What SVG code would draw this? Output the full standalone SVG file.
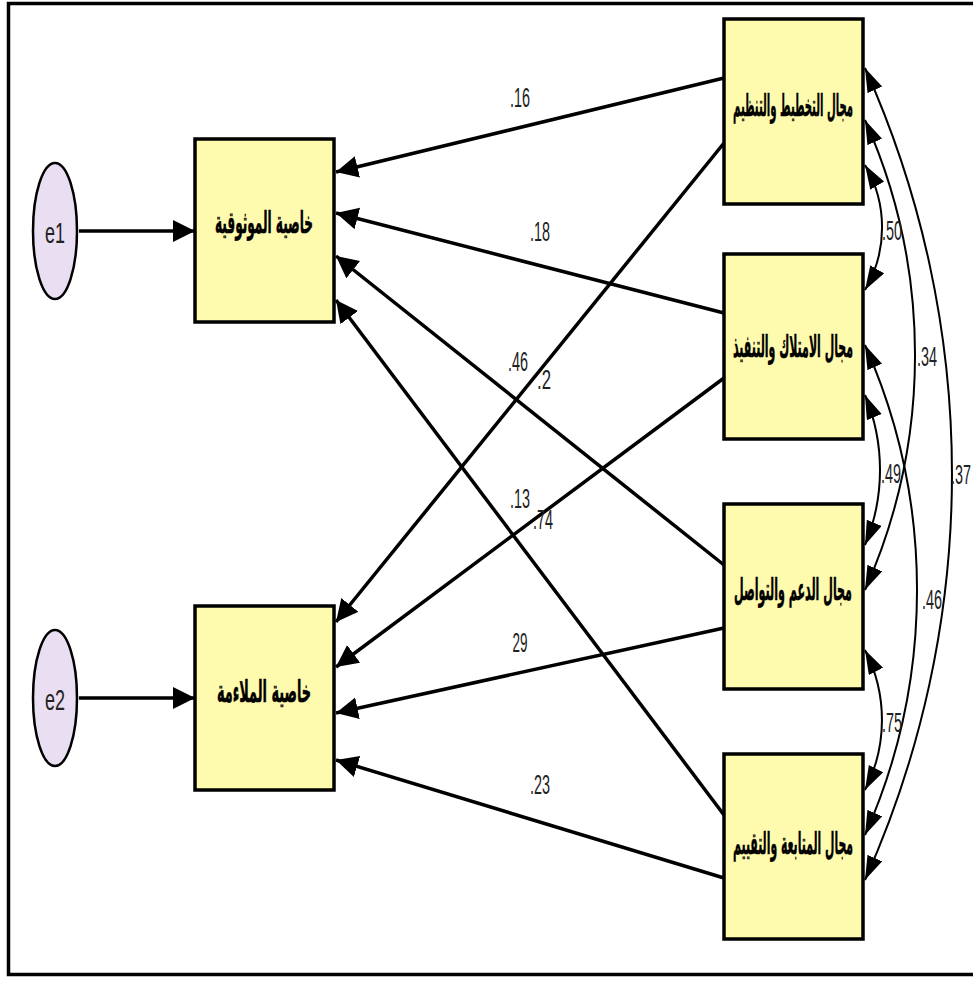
<svg xmlns="http://www.w3.org/2000/svg" width="973" height="983" viewBox="0 0 973 983">
<style>
.box{fill:#FFFBAE;stroke:#000;stroke-width:3.5}
.err{fill:#EADFF2;stroke:#000;stroke-width:2.5}
.ar{font-family:"DejaVu Sans",sans-serif;font-weight:bold;font-size:22px;fill:#000;stroke:#000;stroke-width:0.4;text-anchor:middle}
.en{font-family:"Liberation Sans",Arial,sans-serif;font-size:30px;fill:#222;text-anchor:middle}
.num{font-family:"Liberation Sans",Arial,sans-serif;font-size:28px;fill:#222;text-anchor:middle}
.path{fill:none;stroke:#000;stroke-width:3.5}
.cov{fill:none;stroke:#000;stroke-width:2}
</style>
<defs>
<marker id="ah" markerUnits="userSpaceOnUse" markerWidth="24" markerHeight="24" refX="22" refY="11" orient="auto">
<path d="M0,0 L22,11 L0,22 z" fill="#000"/>
</marker>
<marker id="ahc" markerUnits="userSpaceOnUse" markerWidth="26" markerHeight="18" refX="24" refY="8" orient="auto-start-reverse">
<path d="M0,0 L24,8 L0,16 z" fill="#000"/>
</marker>
</defs>
<rect x="8.5" y="3.5" width="975" height="971" fill="#fff" stroke="#000" stroke-width="3.5"/>

<g id="connectors">
<path class="path" marker-end="url(#ah)" d="M79,231 L195,231"/>
<path class="path" marker-end="url(#ah)" d="M79,698 L195,698"/>
<path class="path" marker-end="url(#ah)" d="M724,78 L336,172"/>
<path class="path" marker-end="url(#ah)" d="M724,143 L336,622"/>
<path class="path" marker-end="url(#ah)" d="M724,313 L336,213"/>
<path class="path" marker-end="url(#ah)" d="M724,378 L336,667"/>
<path class="path" marker-end="url(#ah)" d="M724,565 L336,256"/>
<path class="path" marker-end="url(#ah)" d="M724,628 L336,713"/>
<path class="path" marker-end="url(#ah)" d="M724,815 L336,300"/>
<path class="path" marker-end="url(#ah)" d="M724,878 L336,760"/>
<path class="cov" marker-start="url(#ahc)" marker-end="url(#ahc)" d="M865,165 A123,123 0 0 1 865,290"/>
<path class="cov" marker-start="url(#ahc)" marker-end="url(#ahc)" d="M865,395 A195,195 0 0 1 865,545"/>
<path class="cov" marker-start="url(#ahc)" marker-end="url(#ahc)" d="M865,650 A153,153 0 0 1 865,790"/>
<path class="cov" marker-start="url(#ahc)" marker-end="url(#ahc)" d="M865,120 A577,577 0 0 1 865,590"/>
<path class="cov" marker-start="url(#ahc)" marker-end="url(#ahc)" d="M865,345 A603,603 0 0 1 865,835"/>
<path class="cov" marker-start="url(#ahc)" marker-end="url(#ahc)" d="M865,68 A991,991 0 0 1 865,880"/>
<text class="num" x="520" y="107" textLength="20" lengthAdjust="spacingAndGlyphs">.16</text>
<text class="num" x="540" y="241" textLength="20" lengthAdjust="spacingAndGlyphs">.18</text>
<text class="num" x="518" y="371" textLength="20" lengthAdjust="spacingAndGlyphs">.46</text>
<text class="num" x="544" y="389" textLength="14" lengthAdjust="spacingAndGlyphs">.2</text>
<text class="num" x="520" y="508" textLength="20" lengthAdjust="spacingAndGlyphs">.13</text>
<text class="num" x="543" y="529" textLength="20" lengthAdjust="spacingAndGlyphs">.74</text>
<text class="num" x="520" y="652" textLength="15" lengthAdjust="spacingAndGlyphs">29</text>
<text class="num" x="540" y="794" textLength="20" lengthAdjust="spacingAndGlyphs">.23</text>
<text class="num" x="892" y="240" textLength="20" lengthAdjust="spacingAndGlyphs">.50</text>
<text class="num" x="927" y="366" textLength="20" lengthAdjust="spacingAndGlyphs">.34</text>
<text class="num" x="891" y="483" textLength="20" lengthAdjust="spacingAndGlyphs">.49</text>
<text class="num" x="961" y="484" textLength="20" lengthAdjust="spacingAndGlyphs">.37</text>
<text class="num" x="932" y="609" textLength="20" lengthAdjust="spacingAndGlyphs">.46</text>
<text class="num" x="892" y="732" textLength="20" lengthAdjust="spacingAndGlyphs">.75</text>
</g>

<g id="e1"><ellipse class="err" cx="55" cy="231" rx="22" ry="68"/><text class="en" x="55" y="243" textLength="20" lengthAdjust="spacingAndGlyphs">e1</text></g>
<g id="e2"><ellipse class="err" cx="55" cy="698" rx="22" ry="68"/><text class="en" x="55" y="710" textLength="20" lengthAdjust="spacingAndGlyphs">e2</text></g>

<g id="reliability"><rect class="box" x="195" y="139" width="139" height="183"/><text class="ar" transform="translate(264,233) scale(1,1.4)" x="0" y="0" direction="rtl" textLength="98" lengthAdjust="spacingAndGlyphs">خاصية الموثوقية</text></g>
<g id="suitability"><rect class="box" x="195" y="606" width="139" height="184"/><text class="ar" transform="translate(264,702) scale(1,1.4)" x="0" y="0" direction="rtl" textLength="94" lengthAdjust="spacingAndGlyphs">خاصية الملاءمة</text></g>

<g id="planning"><rect class="box" x="724" y="19" width="139" height="185"/><text class="ar" transform="translate(793,116) scale(1,1.4)" x="0" y="0" direction="rtl" textLength="120" lengthAdjust="spacingAndGlyphs">مجال التخطيط والتنظيم</text></g>
<g id="ownership"><rect class="box" x="724" y="254" width="139" height="185"/><text class="ar" transform="translate(793,357) scale(1,1.4)" x="0" y="0" direction="rtl" textLength="120" lengthAdjust="spacingAndGlyphs">مجال الامتلاك والتنفيذ</text></g>
<g id="support"><rect class="box" x="724" y="504" width="139" height="185"/><text class="ar" transform="translate(793,600) scale(1,1.4)" x="0" y="0" direction="rtl" textLength="118" lengthAdjust="spacingAndGlyphs">مجال الدعم والتواصل</text></g>
<g id="followup"><rect class="box" x="724" y="754" width="139" height="185"/><text class="ar" transform="translate(793,854) scale(1,1.4)" x="0" y="0" direction="rtl" textLength="120" lengthAdjust="spacingAndGlyphs">مجال المتابعة والتقييم</text></g>
</svg>
